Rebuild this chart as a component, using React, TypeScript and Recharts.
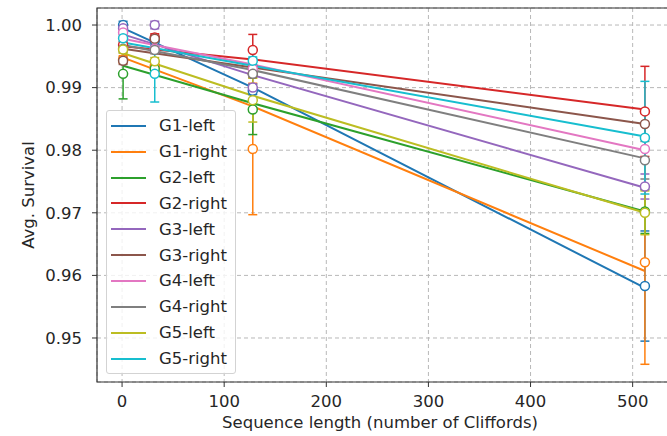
import React from 'react';
import {
  ComposedChart,
  Line,
  Scatter,
  ErrorBar,
  XAxis,
  YAxis,
  CartesianGrid,
  Legend,
  ReferenceArea,
  Label,
} from 'recharts';

const lengths = [1, 32, 128, 512];
const fitLengths = [1, 128, 512];
const xTicks = [0, 100, 200, 300, 400, 500];
const yTicks = [0.95, 0.96, 0.97, 0.98, 0.99, 1.0];

const names = ['G1-left', 'G1-right', 'G2-left', 'G2-right', 'G3-left', 'G3-right', 'G4-left', 'G4-right', 'G5-left', 'G5-right'];
const colors = ['#1f77b4', '#ff7f0e', '#2ca02c', '#d62728', '#9467bd', '#8c564b', '#e377c2', '#7f7f7f', '#bcbd22', '#17becf'];

// mean survival at each length
const g1LeftMean = [1.0, 0.9975, 0.9895, 0.9583];
const g1RightMean = [0.9945, 0.9935, 0.9802, 0.9621];
const g2LeftMean = [0.9922, 0.993, 0.9865, 0.9702];
const g2RightMean = [0.9968, 0.998, 0.996, 0.9862];
const g3LeftMean = [0.9995, 1.0, 0.99, 0.9742];
const g3RightMean = [0.9943, 0.9978, 0.9922, 0.9842];
const g4LeftMean = [0.9988, 0.9962, 0.993, 0.9802];
const g4RightMean = [0.9962, 0.996, 0.9922, 0.9784];
const g5LeftMean = [0.9961, 0.9942, 0.988, 0.97];
const g5RightMean = [0.9979, 0.9922, 0.9943, 0.982];

// error bar half-heights
const g1LeftErr = [0.0006, 0.0006, 0.0006, 0.0088];
const g1RightErr = [0.0006, 0.0006, 0.0105, 0.0163];
const g2LeftErr = [0.004, 0.0006, 0.004, 0.0035];
const g2RightErr = [0.0006, 0.0006, 0.0025, 0.0072];
const g3LeftErr = [0.0006, 0.0006, 0.0006, 0.002];
const g3RightErr = [0.0006, 0.0006, 0.0006, 0.002];
const g4LeftErr = [0.0006, 0.0006, 0.0006, 0.002];
const g4RightErr = [0.0006, 0.0006, 0.0025, 0.003];
const g5LeftErr = [0.0006, 0.0006, 0.0035, 0.0035];
const g5RightErr = [0.0006, 0.0045, 0.0006, 0.009];

// fitted decay curves
const g1LeftFit = [0.9995, 0.99, 0.958];
const g1RightFit = [0.9948, 0.987, 0.9607];
const g2LeftFit = [0.9935, 0.9875, 0.9702];
const g2RightFit = [0.9966, 0.9945, 0.9865];
const g3LeftFit = [0.9985, 0.992, 0.974];
const g3RightFit = [0.9962, 0.9932, 0.9842];
const g4LeftFit = [0.9978, 0.9937, 0.98];
const g4RightFit = [0.9968, 0.9928, 0.9787];
const g5LeftFit = [0.9955, 0.9887, 0.97];
const g5RightFit = [0.9972, 0.9935, 0.9822];

const means = [g1LeftMean, g1RightMean, g2LeftMean, g2RightMean, g3LeftMean, g3RightMean, g4LeftMean, g4RightMean, g5LeftMean, g5RightMean];
const errs = [g1LeftErr, g1RightErr, g2LeftErr, g2RightErr, g3LeftErr, g3RightErr, g4LeftErr, g4RightErr, g5LeftErr, g5RightErr];
const fits = [g1LeftFit, g1RightFit, g2LeftFit, g2RightFit, g3LeftFit, g3RightFit, g4LeftFit, g4RightFit, g5LeftFit, g5RightFit];

const series = names.map((name, i) => ({
  name,
  color: colors[i],
  points: lengths.map((x, j) => ({ x, y: means[i][j], err: errs[i][j] })),
  fit: fitLengths.map((x, j) => ({ x, y: fits[i][j] })),
}));

const X_MIN = -24.55;
const X_MAX = 537.55;
const Y_MIN = 0.94297;
const Y_MAX = 1.00272;

const FONT = 'DejaVu Sans';
const TEXT = '#262626';

function LegendBox() {
  return (
    <div
      style={{
        background: 'rgba(255,255,255,0.8)',
        border: '1px solid #d3d3d3',
        borderRadius: 3,
        padding: '2px 8px 2px 4px',
        fontFamily: FONT,
        fontSize: 16.5,
        color: TEXT,
      }}
    >
      {series.map((s) => (
        <div key={s.name} style={{ height: 25.85, display: 'flex', alignItems: 'center' }}>
          <span style={{ width: 35, height: 2, background: s.color, marginRight: 13, display: 'inline-block' }} />
          <span>{s.name}</span>
        </div>
      ))}
    </div>
  );
}

export default function App() {
  return (
    <div style={{ position: 'absolute', left: 0, top: 0, width: 667, height: 436, overflow: 'hidden', background: '#fff' }}>
      <ComposedChart width={680} height={436} margin={{ top: 8, right: 9, bottom: 0, left: 0 }}>
        <CartesianGrid stroke="#b8b8b8" strokeDasharray="4 3" />
        <XAxis
          dataKey="x"
          type="number"
          domain={[X_MIN, X_MAX]}
          allowDataOverflow
          ticks={xTicks}
          interval={0}
          height={54}
          axisLine={false}
          tickSize={5}
          tickMargin={8}
          tickLine={{ stroke: '#333' }}
          tick={{ fontSize: 16.5, fill: TEXT, fontFamily: FONT }}
        >
          <Label
            content={() => (
              <text x={380} y={428} textAnchor="middle" fontSize={16.5} fill={TEXT} fontFamily={FONT}>
                Sequence length (number of Cliffords)
              </text>
            )}
          />
        </XAxis>
        <YAxis
          dataKey="y"
          type="number"
          domain={[Y_MIN, Y_MAX]}
          allowDataOverflow
          ticks={yTicks}
          interval={0}
          width={97}
          axisLine={false}
          tickSize={5}
          tickMargin={10}
          tickLine={{ stroke: '#333' }}
          tickFormatter={(v: number) => v.toFixed(2)}
          tick={{ fontSize: 16.5, fill: TEXT, fontFamily: FONT }}
        >
          <Label
            content={() => (
              <text
                x={28}
                y={195}
                transform="rotate(-90 28 195)"
                textAnchor="middle"
                dominantBaseline="central"
                fontSize={16.5}
                fill={TEXT}
                fontFamily={FONT}
              >
                Avg. Survival
              </text>
            )}
          />
        </YAxis>
        <ReferenceArea x1={X_MIN} x2={X_MAX} y1={Y_MIN} y2={Y_MAX} fill="none" stroke="#333" strokeWidth={1.2} />
        {series.map((s) => (
          <Line
            key={`fit-${s.name}`}
            data={s.fit}
            dataKey="y"
            type="linear"
            stroke={s.color}
            strokeWidth={2}
            dot={false}
            activeDot={false}
            isAnimationActive={false}
            legendType="none"
          />
        ))}
        {series.map((s) => (
          <Scatter
            key={`pts-${s.name}`}
            data={s.points}
            dataKey="y"
            isAnimationActive={false}
            legendType="none"
            shape={(p: any) => <circle cx={p.cx} cy={p.cy} r={4.5} fill="#fff" stroke={s.color} strokeWidth={1.5} />}
          >
            <ErrorBar dataKey="err" direction="y" width={4.5} stroke={s.color} strokeWidth={1.5} />
          </Scatter>
        ))}
        <Legend
          layout="vertical"
          align="center"
          verticalAlign="middle"
          wrapperStyle={{ left: 106, top: 110, width: 'auto' }}
          content={() => <LegendBox />}
        />
      </ComposedChart>
    </div>
  );
}
